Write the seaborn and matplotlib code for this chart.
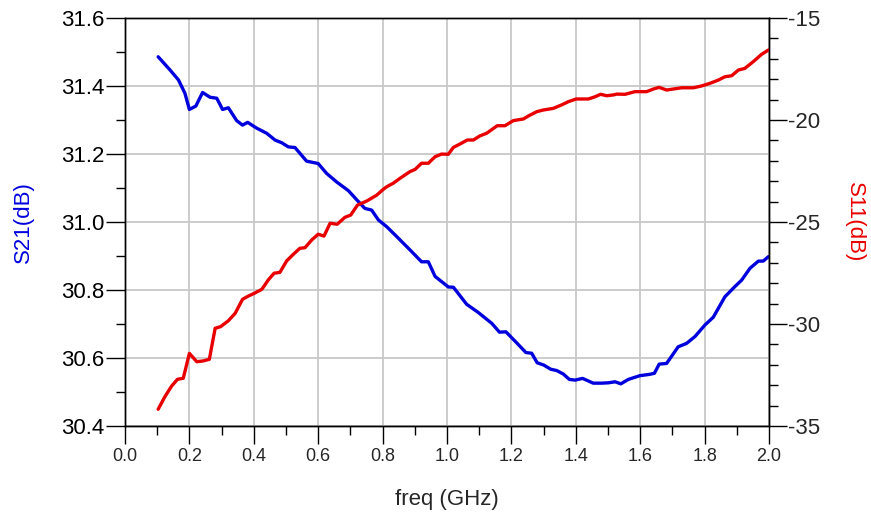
import numpy as np
import pandas as pd
import matplotlib
matplotlib.use("Agg")
import matplotlib.pyplot as plt
from matplotlib.ticker import MultipleLocator
import seaborn as sns

# S21 (left axis, blue)
s21_freq = [0.103, 0.14, 0.166, 0.186, 0.2, 0.22, 0.241, 0.264, 0.285, 0.303,
            0.321, 0.347, 0.365, 0.381, 0.409, 0.44, 0.466, 0.487, 0.507, 0.528,
            0.564, 0.6, 0.626, 0.657, 0.694, 0.72, 0.745, 0.766, 0.787, 0.813,
            0.844, 0.885, 0.921, 0.942, 0.963, 1.004, 1.02, 1.061, 1.097, 1.139,
            1.163, 1.183, 1.216, 1.245, 1.263, 1.28, 1.301, 1.322, 1.341, 1.361,
            1.38, 1.398, 1.421, 1.454, 1.48, 1.501, 1.522, 1.54, 1.563, 1.599,
            1.63, 1.644, 1.659, 1.682, 1.718, 1.744, 1.77, 1.801, 1.827, 1.863,
            1.894, 1.915, 1.941, 1.967, 1.982, 1.998]
s21_db = [31.486, 31.447, 31.418, 31.379, 31.331, 31.341, 31.381, 31.367, 31.364, 31.331,
          31.336, 31.298, 31.285, 31.293, 31.276, 31.261, 31.241, 31.233, 31.221, 31.219,
          31.179, 31.172, 31.143, 31.118, 31.092, 31.065, 31.040, 31.035, 31.006, 30.986,
          30.957, 30.918, 30.883, 30.883, 30.840, 30.809, 30.808, 30.758, 30.734, 30.702,
          30.676, 30.677, 30.645, 30.616, 30.614, 30.586, 30.579, 30.567, 30.563, 30.553,
          30.537, 30.535, 30.540, 30.526, 30.526, 30.527, 30.530, 30.524, 30.537, 30.548,
          30.552, 30.555, 30.582, 30.584, 30.633, 30.643, 30.663, 30.697, 30.720, 30.780,
          30.810, 30.829, 30.864, 30.885, 30.885, 30.898]

# S11 (right axis, red)
s11_freq = [0.103, 0.124, 0.145, 0.163, 0.181, 0.2, 0.223, 0.243, 0.262, 0.28,
            0.297, 0.321, 0.342, 0.365, 0.383, 0.401, 0.425, 0.445, 0.463, 0.481,
            0.502, 0.523, 0.543, 0.559, 0.58, 0.6, 0.618, 0.637, 0.659, 0.683,
            0.701, 0.722, 0.751, 0.782, 0.802, 0.813, 0.833, 0.854, 0.885, 0.901,
            0.921, 0.942, 0.963, 0.983, 1.004, 1.02, 1.04, 1.063, 1.082, 1.102,
            1.123, 1.156, 1.18, 1.206, 1.237, 1.253, 1.279, 1.299, 1.33, 1.356,
            1.377, 1.401, 1.439, 1.46, 1.477, 1.496, 1.517, 1.527, 1.553, 1.584,
            1.62, 1.641, 1.659, 1.682, 1.703, 1.729, 1.765, 1.791, 1.817, 1.843,
            1.863, 1.884, 1.905, 1.925, 1.951, 1.977, 1.998]
s11_db = [-34.18, -33.56, -33.04, -32.71, -32.66, -31.44, -31.85, -31.81, -31.73, -30.21,
          -30.13, -29.84, -29.48, -28.79, -28.63, -28.50, -28.30, -27.84, -27.51, -27.47,
          -26.91, -26.58, -26.29, -26.26, -25.88, -25.60, -25.69, -25.06, -25.11, -24.77,
          -24.66, -24.17, -23.97, -23.68, -23.40, -23.27, -23.10, -22.86, -22.53, -22.42,
          -22.12, -22.12, -21.80, -21.67, -21.68, -21.34, -21.18, -20.98, -20.98, -20.78,
          -20.65, -20.28, -20.28, -20.03, -19.95, -19.80, -19.59, -19.51, -19.43, -19.26,
          -19.10, -18.97, -18.97, -18.86, -18.74, -18.81, -18.77, -18.73, -18.74, -18.61,
          -18.61, -18.48, -18.40, -18.53, -18.48, -18.42, -18.42, -18.33, -18.20, -18.04,
          -17.88, -17.83, -17.55, -17.47, -17.14, -16.78, -16.57]

x_ticks = [0.0, 0.2, 0.4, 0.6, 0.8, 1.0, 1.2, 1.4, 1.6, 1.8, 2.0]
left_ticks = [30.4, 30.6, 30.8, 31.0, 31.2, 31.4, 31.6]
right_ticks = [-35, -30, -25, -20, -15]

BLUE = "#0000dd"
RED = "#e80000"

sns.set_theme(style="white")
plt.rcParams["font.family"] = ["Liberation Sans", "DejaVu Sans"]

df21 = pd.DataFrame({"freq": s21_freq, "S21": s21_db})
df11 = pd.DataFrame({"freq": s11_freq, "S11": s11_db})

fig = plt.figure(figsize=(8.71, 5.19), dpi=100)
ax = fig.add_axes([0.1435, 0.1792, 0.7394, 0.7861])
ax2 = ax.twinx()

sns.lineplot(data=df21, x="freq", y="S21", ax=ax, color=BLUE, linewidth=2.4)
sns.lineplot(data=df11, x="freq", y="S11", ax=ax2, color=RED, linewidth=2.4)

ax.set_xlim(0, 2.0)
ax.set_ylim(30.4, 31.6)
ax2.set_ylim(-35, -15)

ax.set_xticks(x_ticks)
ax.set_xticklabels([f"{t:.1f}" for t in x_ticks])
ax.set_yticks(left_ticks)
ax.set_yticklabels([f"{t:.1f}" for t in left_ticks])
ax2.set_yticks(right_ticks)
ax2.set_yticklabels([str(t) for t in right_ticks])
ax.xaxis.set_minor_locator(MultipleLocator(0.1))
ax.yaxis.set_minor_locator(MultipleLocator(0.1))
ax2.yaxis.set_minor_locator(MultipleLocator(1))

ax.grid(True, which="major", color="#c8c8c8", linewidth=1.3)
ax.set_axisbelow(True)

for a in (ax, ax2):
    for s in a.spines.values():
        s.set_color("black")
        s.set_linewidth(1.0)

ax.tick_params(axis="y", which="major", length=14, width=1.0, color="black",
               labelsize=16, pad=1, left=True, labelcolor="black")
ax.tick_params(axis="y", which="minor", length=6.5, width=1.0, color="black", left=True)
ax.tick_params(axis="x", which="major", length=13, width=1.0, color="black",
               labelsize=13, pad=3, bottom=True)
ax.tick_params(axis="x", which="minor", length=6.5, width=1.0, color="black", bottom=True)
ax2.tick_params(axis="y", which="major", length=13, width=1.0, color="black",
                labelsize=16, pad=1, right=True)
ax2.tick_params(axis="y", which="minor", length=6.5, width=1.0, color="black", right=True)

ax.set_xlabel("freq (GHz)", fontsize=16, labelpad=17)
ax.set_ylabel("S21(dB)", fontsize=16, color=BLUE, labelpad=19)
ax2.set_ylabel("S11(dB)", fontsize=16, color=RED, rotation=270, labelpad=32)

fig.savefig("out.png", dpi=100)
